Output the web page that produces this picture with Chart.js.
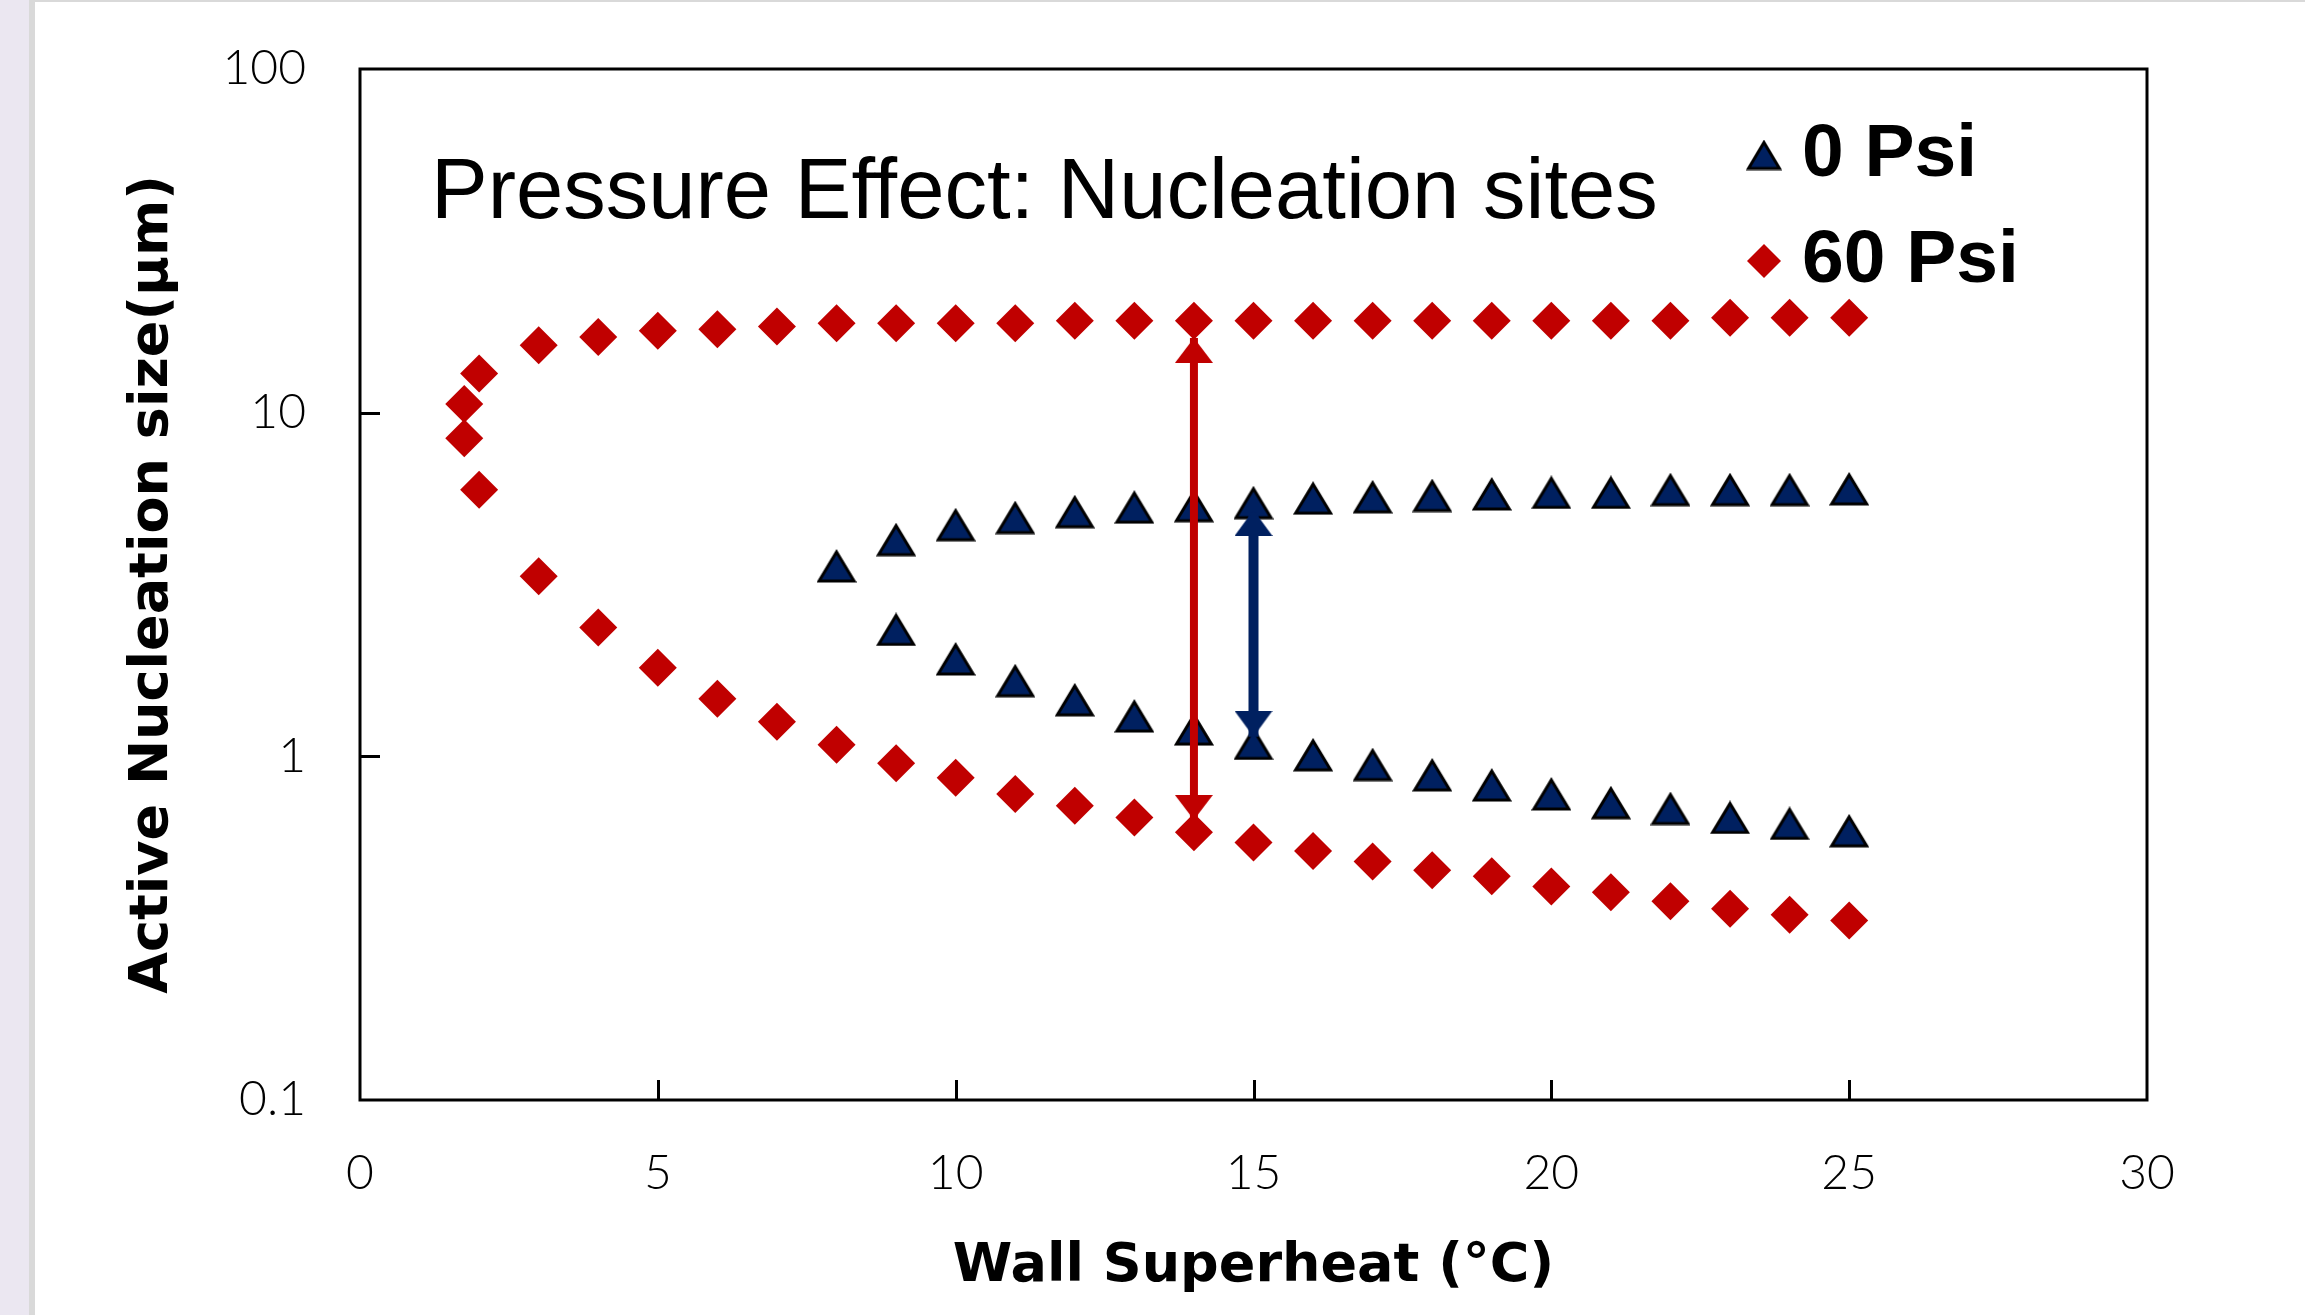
<!DOCTYPE html>
<html>
<head>
<meta charset="utf-8">
<script src="https://cdn.jsdelivr.net/npm/chart.js@4.4.1/dist/chart.umd.min.js"></script>
<style>
  html, body { margin: 0; padding: 0; background: #fff; }
</style>
</head>
<body>
<canvas id="chart" width="2305" height="1315"></canvas>
<script>
// 0 Psi (triangles), upper and lower branch
const psi0UpperX = [8, 9, 10, 11, 12, 13, 14, 15, 16, 17, 18, 19, 20, 21, 22, 23, 24, 25];
const psi0UpperY = [3.58, 4.27, 4.72, 4.95, 5.15, 5.31, 5.36, 5.47, 5.64, 5.69, 5.74, 5.80, 5.86, 5.86, 5.97, 5.97, 5.97, 6.0];
const psi0LowerX = [9, 10, 11, 12, 13, 14, 15, 16, 17, 18, 19, 20, 21, 22, 23, 24, 25];
const psi0LowerY = [2.34, 1.92, 1.66, 1.46, 1.31, 1.20, 1.09, 1.01, 0.946, 0.883, 0.825, 0.777, 0.733, 0.705, 0.664, 0.638, 0.607];

// 60 Psi (diamonds), upper and lower branch
const psi60UpperX = [1.75, 2, 3, 4, 5, 6, 7, 8, 9, 10, 11, 12, 13, 14, 15, 16, 17, 18, 19, 20, 21, 22, 23, 24, 25];
const psi60UpperY = [10.6, 13.0, 15.7, 16.6, 17.3, 17.5, 17.8, 18.2, 18.2, 18.2, 18.2, 18.5, 18.5, 18.5, 18.5, 18.5, 18.5, 18.5, 18.5, 18.5, 18.5, 18.5, 18.9, 18.9, 18.9];
const psi60LowerX = [1.75, 2, 3, 4, 5, 6, 7, 8, 9, 10, 11, 12, 13, 14, 15, 16, 17, 18, 19, 20, 21, 22, 23, 24, 25];
const psi60LowerY = [8.43, 5.97, 3.34, 2.37, 1.81, 1.47, 1.26, 1.08, 0.955, 0.867, 0.777, 0.718, 0.664, 0.601, 0.561, 0.530, 0.494, 0.466, 0.448, 0.418, 0.402, 0.379, 0.360, 0.346, 0.333];

// double arrows (tip to tip)
const arrowRedX = [14, 14];
const arrowRedY = [16.5, 0.653];
const arrowBlueX = [15, 15];
const arrowBlueY = [5.21, 1.14];

const xTicks = [0, 5, 10, 15, 20, 25, 30];
const yTicks = [0.1, 1, 10, 100];
const seriesLabels = ["0 Psi", "60 Psi"];
const noteText = "Pressure Effect: Nucleation sites";

const RED = "#c00000";
const NAVY = "#002060";

function toPoints(xs, ys) {
  return xs.map((x, i) => ({ x: x, y: ys[i] }));
}

// arrowhead image: tip at the centre, base below it
function arrowHead(color, w, h) {
  const c = document.createElement("canvas");
  c.width = w;
  c.height = h * 2;
  const g = c.getContext("2d");
  g.fillStyle = color;
  g.beginPath();
  g.moveTo(w / 2, h);
  g.lineTo(w, h * 2);
  g.lineTo(0, h * 2);
  g.closePath();
  g.fill();
  return c;
}

// Excel-like triangle marker, centred on its box
function triangleMarker(w, h) {
  const c = document.createElement("canvas");
  c.width = w;
  c.height = h;
  const g = c.getContext("2d");
  g.fillStyle = NAVY;
  g.strokeStyle = "#000";
  g.lineWidth = 3;
  g.lineJoin = "miter";
  g.beginPath();
  g.moveTo(w / 2, 3);
  g.lineTo(w - 2.5, h - 2);
  g.lineTo(2.5, h - 2);
  g.closePath();
  g.fill();
  g.stroke();
  return c;
}

const redHead = arrowHead(RED, 38, 25);
const blueHead = arrowHead(NAVY, 38, 26);
const triMark = triangleMarker(40, 34);
const triLegend = triangleMarker(36, 31);

const pagePlugin = {
  id: "page",
  beforeDraw(chart) {
    const ctx = chart.ctx;
    ctx.save();
    ctx.fillStyle = "#ffffff";
    ctx.fillRect(0, 0, chart.width, chart.height);
    ctx.fillStyle = "#ebe7f1";
    ctx.fillRect(0, 0, 29, chart.height);
    ctx.fillStyle = "#d9d9d9";
    ctx.fillRect(29, 0, 6, chart.height);
    ctx.fillRect(29, 0, chart.width, 2);
    ctx.restore();
  },
  beforeDatasetsDraw(chart) {
    const { ctx, chartArea: a, scales } = chart;
    ctx.save();
    ctx.strokeStyle = "#000";
    ctx.lineWidth = 3;
    ctx.strokeRect(a.left, a.top, a.right - a.left, a.bottom - a.top);
    ctx.beginPath();
    xTicks.slice(1, -1).forEach((v) => {
      const px = Math.round(scales.x.getPixelForValue(v)) + 0.5;
      ctx.moveTo(px, a.bottom);
      ctx.lineTo(px, a.bottom - 20);
    });
    yTicks.slice(1, -1).forEach((v) => {
      const py = Math.round(scales.y.getPixelForValue(v)) + 0.5;
      ctx.moveTo(a.left, py);
      ctx.lineTo(a.left + 20, py);
    });
    ctx.stroke();
    ctx.restore();
  },
  afterDraw(chart) {
    const { ctx, chartArea: a } = chart;
    ctx.save();
    ctx.fillStyle = "#000";
    ctx.textBaseline = "middle";
    ctx.font = '85px "Liberation Sans", Arial, sans-serif';
    ctx.fillText(noteText, a.left + 71, a.top + 126);

    // legend
    const lx = a.left + 1404;
    const ly = [a.top + 86, a.top + 192];
    ctx.drawImage(triLegend, lx - triLegend.width / 2, ly[0] - triLegend.height / 2);
    ctx.fillStyle = RED;
    Chart.helpers.drawPoint(ctx, { pointStyle: "rectRot", radius: 17, borderWidth: 0, rotation: 0 }, lx, ly[1]);
    ctx.fillStyle = "#000";
    ctx.font = 'bold 75px "Liberation Sans", Arial, sans-serif';
    seriesLabels.forEach((t, i) => ctx.fillText(t, lx + 38, ly[i]));
    ctx.restore();
  }
};

const tickFont = { family: 'Lato, "Liberation Sans", sans-serif', size: 48, weight: 300 };
const titleFont = { family: '"DejaVu Sans", Verdana, sans-serif', size: 54, weight: "bold", lineHeight: 1 };

new Chart(document.getElementById("chart"), {
  type: "scatter",
  data: {
    datasets: [
      {
        label: "red arrow",
        data: toPoints(arrowRedX, arrowRedY),
        showLine: true,
        borderColor: RED,
        borderWidth: 8,
        pointStyle: redHead,
        pointRotation: [0, 180],
        order: 0
      },
      {
        label: "blue arrow",
        data: toPoints(arrowBlueX, arrowBlueY),
        showLine: true,
        borderColor: NAVY,
        borderWidth: 10,
        pointStyle: blueHead,
        pointRotation: [0, 180],
        order: 0
      },
      {
        label: seriesLabels[0],
        data: toPoints(psi0UpperX, psi0UpperY).concat(toPoints(psi0LowerX, psi0LowerY)),
        pointStyle: triMark,
        pointRadius: 20,
        order: 1
      },
      {
        label: seriesLabels[1],
        data: toPoints(psi60UpperX, psi60UpperY).concat(toPoints(psi60LowerX, psi60LowerY)),
        pointStyle: "rectRot",
        pointRadius: 19,
        pointBackgroundColor: RED,
        pointBorderColor: RED,
        pointBorderWidth: 0,
        order: 2
      }
    ]
  },
  options: {
    responsive: false,
    animation: false,
    devicePixelRatio: 1,
    layout: { padding: { top: 69, right: 158, left: 0, bottom: 0 } },
    plugins: {
      legend: { display: false },
      tooltip: { enabled: false }
    },
    scales: {
      x: {
        type: "linear",
        min: 0,
        max: 30,
        afterBuildTicks: (s) => { s.ticks = xTicks.map((v) => ({ value: v })); },
        afterFit: (s) => { s.height = 215; s.paddingLeft = 0; s.paddingRight = 0; },
        grid: { display: false, drawTicks: false },
        border: { display: false },
        ticks: { color: "#000", font: tickFont, padding: 45 },
        title: { display: true, text: "Wall Superheat (°C)", color: "#000", font: titleFont, padding: { top: 0, bottom: 21 } }
      },
      y: {
        type: "logarithmic",
        min: 0.1,
        max: 100,
        afterBuildTicks: (s) => { s.ticks = yTicks.map((v) => ({ value: v })); },
        afterFit: (s) => { s.width = 360; s.paddingTop = 0; s.paddingBottom = 0; },
        grid: { display: false, drawTicks: false },
        border: { display: false },
        ticks: { color: "#000", font: tickFont, padding: 54, callback: (v) => String(v) },
        title: { display: true, text: "Active Nucleation size(μm)", color: "#000", font: titleFont, padding: { top: 126, bottom: 0 } }
      }
    }
  },
  plugins: [pagePlugin]
});
</script>
</body>
</html>
